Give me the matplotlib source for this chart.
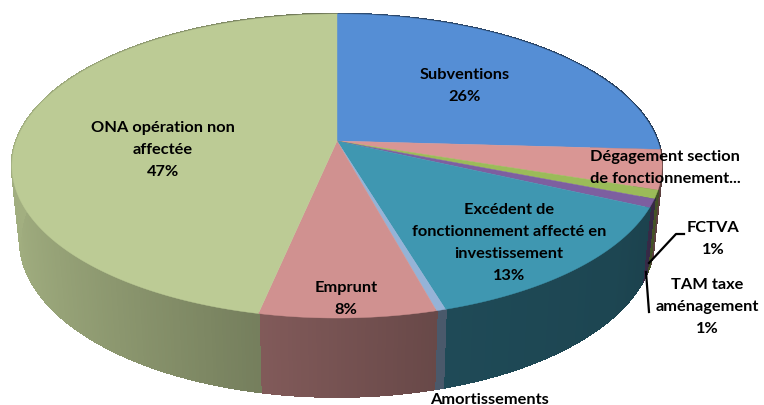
import numpy as np
import matplotlib
matplotlib.use('Agg')
import matplotlib.pyplot as plt
from matplotlib.collections import PolyCollection
from matplotlib.colors import to_rgb

# categories clockwise from 12 o'clock
categories = ['Subventions', 'Dégagement section de fonctionnement', 'FCTVA', 'TAM taxe aménagement',
              'Excédent de fonctionnement affecté en investissement', 'Amortissements', 'Emprunt',
              'ONA opération non affectée']
values = [25.9, 4.2, 0.9, 0.9, 13.5, 0.4, 7.5, 46.7]
colors = ['#558ed5', '#d99694', '#9bbb59', '#7d5fa0', '#3f97b1', '#95b3d7', '#d09190', '#bccb95']

plt.rcParams['font.family'] = ['Lato', 'DejaVu Sans']

fig = plt.figure(figsize=(7.64, 4.05), dpi=100)
ax = fig.add_axes([0, 0, 1, 1])
ax.set_xlim(0, 764)
ax.set_ylim(405, 0)
ax.axis('off')


# circle -> tilted disc, with perspective so the pivot sits above the middle
def top_disc(t):
    u = np.sin(t)
    v = np.cos(t)
    w = 1 + 0.1645 * v
    return 337 + 320.6 * u / w, 141 - 147.9 * v / w


def low_disc(t):
    x, y = top_disc(t)
    return 337 + (x - 337) * 0.975, 240 + (y - 166) * 1.03


def shade(color, t):
    f = np.interp(np.sin(t), [-1, -0.6, -0.2, 0.3, 0.8, 1], [0.86, 0.74, 0.62, 0.49, 0.46, 0.42])
    return tuple(c * f for c in to_rgb(color))


edges = np.concatenate([[0], np.cumsum(values)]) / sum(values) * 2 * np.pi

# side wall made of thin strips
strips = []
strip_colors = []
for i in range(len(values)):
    n = max(3, int(values[i] * 6))
    ts = np.linspace(edges[i], edges[i + 1], n)
    for a, b in zip(ts[:-1], ts[1:]):
        x1, y1 = top_disc(a)
        x2, y2 = top_disc(b)
        x3, y3 = low_disc(b)
        x4, y4 = low_disc(a)
        strips.append([(x1, y1), (x2, y2), (x3, y3), (x4, y4)])
        c = shade(colors[i], (a + b) / 2)
        strip_colors.append(c)
ax.add_collection(PolyCollection(strips, facecolors=strip_colors, edgecolors=strip_colors,
                                 linewidths=1.2, antialiaseds=False))

# top surface
for i in range(len(values)):
    ts = np.linspace(edges[i], edges[i + 1], max(3, int(values[i] * 6)))
    x, y = top_disc(ts)
    ax.fill(np.r_[337, x], np.r_[141, y], color=colors[i], lw=0.3)

# leader lines
ax.plot([649, 676, 684], [263, 234, 234], color='black', lw=1.6)
ax.plot([646, 649], [272, 312], color='black', lw=1.6)

# labels
lab = dict(ha='center', va='center', fontweight='bold', fontsize=11.8, color='black', linespacing=1.72)
ax.text(465, 86, 'Subventions\n26%', **lab)
ax.text(665, 168, 'Dégagement section\nde fonctionnement...', **lab)
ax.text(163, 150, 'ONA opération non\naffectée\n47%', **lab)
ax.text(509, 243, 'Excédent de\nfonctionnement affecté en\ninvestissement\n13%', **lab)
ax.text(346, 299, 'Emprunt\n8%', **lab)
ax.text(713, 239, 'FCTVA\n1%', **lab)
ax.text(707, 307, 'TAM taxe\naménagement\n1%', **lab)
ax.text(489, 399.5, 'Amortissements', **lab)

fig.savefig('out.png', dpi=100)
